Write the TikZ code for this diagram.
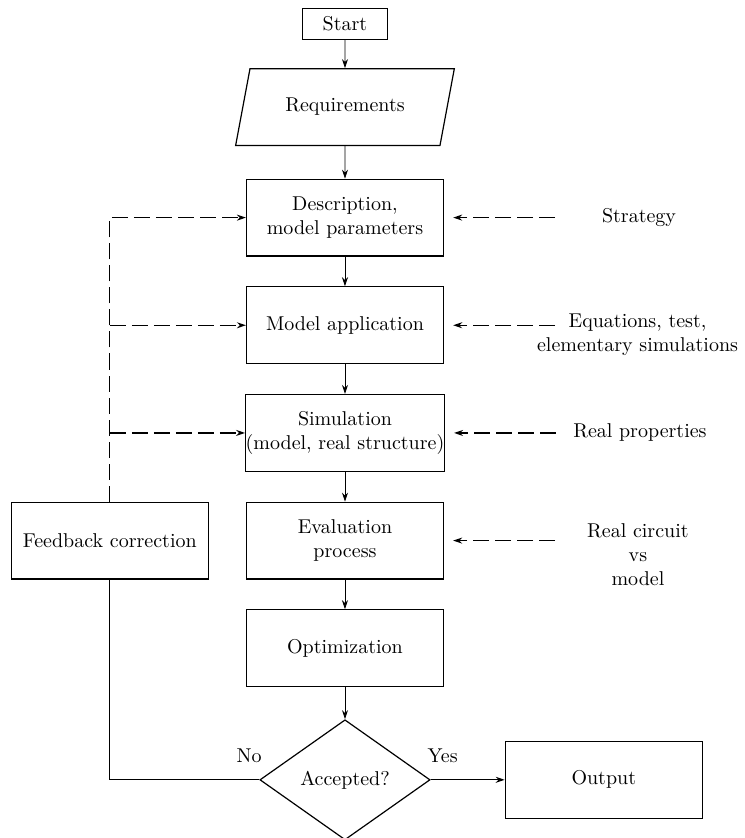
\documentclass[tikz,border=0pt]{standalone}
\usetikzlibrary{arrows.meta, positioning, shapes.geometric}

\begin{document}
\begin{tikzpicture}[node distance=0.52cm, >={Stealth[length=4.5pt,width=3pt]}]
        \tikzstyle{startbox} = [rectangle, draw, semithick, minimum width=1.5cm, minimum height=0.55cm]
        \tikzstyle{io} = [trapezium, draw, semithick, trapezium left angle=72, trapezium right angle=108, trapezium stretches=true, minimum width=3.87cm, minimum height=1.35cm]
        \tikzstyle{block} = [rectangle, draw, semithick, align=center, inner xsep=0pt, minimum width=3.46cm, minimum height=1.35cm]
        \tikzstyle{decision} = [diamond, draw, semithick, aspect=1.42, inner sep=0pt, minimum width=2.99cm, minimum height=2.11cm]
        \tikzstyle{note} = [align=center]
        \tikzstyle{dashline} = [semithick, dash pattern=on 8pt off 3pt]

        \useasboundingbox (-6.06,0.42) rectangle (7.01,-14.30);

        % main column
        \node [startbox] (start) at (0,0) {Start};
        \node [io, below=0.49cm of start] (req) {Requirements};
        \node [block, below=0.57cm of req] (desc) {Description,\\model parameters};
        \node [block, below=of desc] (model) {Model application};
        \node [block, below=of model] (sim) {Simulation\\(model, real structure)};
        \node [block, below=of sim] (eval) {Evaluation\\process};
        \node [block, below=of eval] (opt) {Optimization};
        \node [decision, below=0.56cm of opt] (dec) {Accepted?};
        \node [block, right=1.3cm of dec] (out) {Output};
        \node [block, left=0.65cm of eval] (fb) {Feedback correction};

        % inputs on the right
        \node [note, right=2.65cm of desc] (strat) {Strategy};
        \node [note, right=1.51cm of model, yshift=-0.16cm] (eqs) {Equations, test,\\elementary simulations};
        \node [note, right=2.13cm of sim] (props) {Real properties};
        \node [note, right=2.39cm of eval, yshift=-0.25cm] (circ) {Real circuit\\vs\\model};

        \coordinate (in1) at ([xshift=1.95cm]desc.east);
        \coordinate (in2) at ([xshift=1.95cm]model.east);
        \coordinate (in3) at ([xshift=1.95cm]sim.east);
        \coordinate (in4) at ([xshift=1.95cm]eval.east);

        \node (no) at ([xshift=-0.18cm, yshift=0.42cm]dec.west) {No};
        \node (yes) at ([xshift=0.21cm, yshift=0.42cm]dec.east) {Yes};

        \draw [->] (start) -- (req);
        \draw [->] (req) -- (desc);
        \draw [->] (desc) -- (model);
        \draw [->] (model) -- (sim);
        \draw [->] (sim) -- (eval);
        \draw [->] (eval) -- (opt);
        \draw [->] (opt) -- (dec);
        \draw [->, semithick] (dec) -- (out);
        \draw [semithick] (fb.south) |- (dec.west);

        % feedback loop
        \draw [->, dashline] (fb.north) |- (desc.west);
        \draw [->, dashline] (fb.north |- model.west) -- (model.west);
        \draw [->, dashline] (fb.north |- sim.west) -- (sim.west);

        \draw [->, dashline, shorten >=0.16cm] (in1) -- (desc.east);
        \draw [->, dashline, shorten >=0.16cm] (in2) -- (model.east);
        \draw [->, dashline, shorten >=0.16cm] (in3) -- (sim.east);
        \draw [->, dashline, shorten >=0.16cm] (in4) -- (eval.east);
    \end{tikzpicture}
\end{document}
